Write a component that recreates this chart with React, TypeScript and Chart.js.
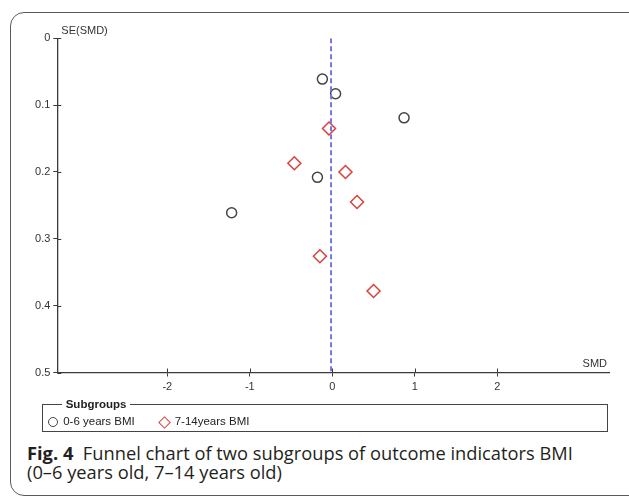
import React, { useEffect, useRef } from "react";
import { Chart, registerables } from "chart.js";

Chart.register(...registerables);

// ---- data ----
const GROUP_A_LABEL = "0-6 years BMI";
const GROUP_B_LABEL = "7-14years BMI";
const GROUP_A_SMD = [-0.12, 0.04, 0.87, -0.18, -1.22];
const GROUP_A_SE = [0.061, 0.083, 0.119, 0.208, 0.261];
const GROUP_B_SMD = [-0.04, -0.46, 0.16, 0.3, -0.15, 0.5];
const GROUP_B_SE = [0.135, 0.187, 0.2, 0.245, 0.326, 0.378];
const POOLED_SMD = -0.015;
const X_TICKS = [-2, -1, 0, 1, 2];
const Y_TICKS = [0, 0.1, 0.2, 0.3, 0.4, 0.5];
const X_MIN = -3.333;
const X_MAX = 3.354;
const Y_MIN = 0;
const Y_MAX = 0.5;
const X_TITLE = "SMD";
const Y_TITLE = "SE(SMD)";
const LEGEND_TITLE = "Subgroups";
const CAPTION_BOLD = "Fig. 4";
const CAPTION_LINE1 = "Funnel chart of two subgroups of outcome indicators BMI";
const CAPTION_LINE2 = "(0–6 years old, 7–14 years old)";

const AXIS_COLOR = "#3a3a3a";
const TEXT_COLOR = "#333";
const CIRCLE_COLOR = "#444";
const DIAMOND_COLOR = "#d9403c";
const DASH_COLOR = "#7474e4";
const CHART_FONT = '"Liberation Sans", Arial, sans-serif';

const axisDecor = {
  id: "axisDecor",
  afterDraw(chart: any) {
    const ctx = chart.ctx;
    const { left, right, top, bottom } = chart.chartArea;
    const xs = chart.scales.x;
    const ys = chart.scales.y;
    ctx.save();
    ctx.strokeStyle = AXIS_COLOR;
    ctx.lineWidth = 1;
    ctx.beginPath();
    xs.ticks.forEach((t: any) => {
      const px = Math.round(xs.getPixelForValue(t.value)) + 0.5;
      ctx.moveTo(px, bottom);
      ctx.lineTo(px, bottom - 4);
    });
    ys.ticks.forEach((t: any) => {
      const py = Math.round(ys.getPixelForValue(t.value)) + 0.5;
      ctx.moveTo(left, py);
      ctx.lineTo(left + 4, py);
    });
    ctx.stroke();
    ctx.fillStyle = TEXT_COLOR;
    ctx.font = "11px " + CHART_FONT;
    ctx.textBaseline = "middle";
    ctx.textAlign = "left";
    ctx.fillText(Y_TITLE, left + 4, top - 7);
    ctx.textAlign = "right";
    ctx.fillText(X_TITLE, right - 2, bottom - 9);
    ctx.restore();
  },
};

function FunnelChart() {
  const ref = useRef<HTMLCanvasElement | null>(null);
  useEffect(() => {
    if (!ref.current) return;
    const chart = new Chart(ref.current, {
      type: "scatter",
      data: {
        datasets: [
          {
            label: "pooled",
            data: [
              { x: POOLED_SMD, y: Y_MIN },
              { x: POOLED_SMD, y: Y_MAX },
            ],
            showLine: true,
            borderColor: DASH_COLOR,
            borderWidth: 2,
            borderDash: [5, 3],
            pointRadius: 0,
            fill: false,
          } as any,
          {
            label: GROUP_A_LABEL,
            data: GROUP_A_SMD.map((x, i) => ({ x, y: GROUP_A_SE[i] })),
            pointStyle: "circle",
            pointRadius: 5,
            borderColor: CIRCLE_COLOR,
            backgroundColor: "rgba(0,0,0,0)",
            borderWidth: 1.5,
          },
          {
            label: GROUP_B_LABEL,
            data: GROUP_B_SMD.map((x, i) => ({ x, y: GROUP_B_SE[i] })),
            pointStyle: "rectRot",
            pointRadius: 6.5,
            borderColor: DIAMOND_COLOR,
            backgroundColor: "rgba(0,0,0,0)",
            borderWidth: 1.5,
          },
        ],
      },
      options: {
        animation: false,
        responsive: true,
        maintainAspectRatio: false,
        layout: { padding: { left: 0, top: 38.3, right: 20, bottom: 0 } },
        plugins: { legend: { display: false }, tooltip: { enabled: false } },
        scales: {
          x: {
            type: "linear",
            min: X_MIN,
            max: X_MAX,
            afterBuildTicks: (s: any) => {
              s.ticks = X_TICKS.map((v) => ({ value: v }));
            },
            afterFit: (s: any) => {
              s.height = 27.5;
            },
            ticks: {
              color: TEXT_COLOR,
              font: { family: CHART_FONT, size: 11 },
              padding: 4,
              maxRotation: 0,
              callback: (v: any) => String(v),
            },
            grid: {
              drawOnChartArea: false,
              drawTicks: true,
              tickLength: 4,
              color: AXIS_COLOR,
            },
            border: { display: true, color: AXIS_COLOR, width: 1.3 },
          },
          y: {
            type: "linear",
            reverse: true,
            min: Y_MIN,
            max: Y_MAX,
            afterBuildTicks: (s: any) => {
              s.ticks = Y_TICKS.map((v) => ({ value: v }));
            },
            afterFit: (s: any) => {
              s.width = 57.3;
            },
            ticks: {
              color: TEXT_COLOR,
              font: { family: CHART_FONT, size: 11 },
              padding: 3,
              callback: (v: any) => String(Math.round(Number(v) * 10) / 10),
            },
            grid: {
              drawOnChartArea: false,
              drawTicks: true,
              tickLength: 4,
              color: AXIS_COLOR,
            },
            border: { display: true, color: AXIS_COLOR, width: 1.3 },
          },
        },
      },
      plugins: [axisDecor],
    });
    return () => chart.destroy();
  }, []);
  return (
    <div style={{ position: "absolute", left: 0, top: 0, width: 629, height: 400 }}>
      <canvas ref={ref} />
    </div>
  );
}

export default function App() {
  return (
    <div
      style={{
        position: "absolute",
        left: 0,
        top: 0,
        width: 629,
        height: 498,
        overflow: "hidden",
        background: "#fff",
      }}
    >
      <div
        style={{
          position: "absolute",
          left: 10,
          top: 12,
          width: 700,
          height: 484,
          border: "1.5px solid #5a5a5a",
          borderRadius: "14px 0 0 14px",
          boxSizing: "border-box",
        }}
      />
      <FunnelChart />
      <div
        style={{
          position: "absolute",
          left: 41.7,
          top: 404.3,
          width: 566,
          height: 27.4,
          border: "1px solid #444",
          boxSizing: "border-box",
          fontFamily: CHART_FONT,
          fontSize: 11.5,
          color: "#222",
        }}
      >
        <span
          style={{
            position: "absolute",
            left: 19,
            top: -8,
            background: "#fff",
            padding: "0 4px",
            fontWeight: "bold",
            lineHeight: "15px",
          }}
        >
          {LEGEND_TITLE}
        </span>
        <span
          style={{
            position: "absolute",
            left: 5,
            top: 12,
            width: 10,
            height: 10,
            border: `1.5px solid ${CIRCLE_COLOR}`,
            borderRadius: "50%",
            boxSizing: "border-box",
          }}
        />
        <span style={{ position: "absolute", left: 20.5, top: 9, lineHeight: "15px" }}>
          {GROUP_A_LABEL}
        </span>
        <span
          style={{
            position: "absolute",
            left: 117.6,
            top: 12.4,
            width: 9,
            height: 9,
            border: `1.5px solid ${DIAMOND_COLOR}`,
            transform: "rotate(45deg)",
            boxSizing: "border-box",
          }}
        />
        <span style={{ position: "absolute", left: 132, top: 9, lineHeight: "15px" }}>
          {GROUP_B_LABEL}
        </span>
      </div>
      <div
        style={{
          position: "absolute",
          left: 27,
          top: 442.5,
          fontFamily: '"Open Sans", "Noto Sans", sans-serif',
          fontSize: 18.3,
          lineHeight: "19.5px",
          color: "#231f20",
          whiteSpace: "nowrap",
        }}
      >
        <div>
          <b>{CAPTION_BOLD}</b>
          {"\u00a0\u00a0"}
          {CAPTION_LINE1}
        </div>
        <div>{CAPTION_LINE2}</div>
      </div>
    </div>
  );
}
